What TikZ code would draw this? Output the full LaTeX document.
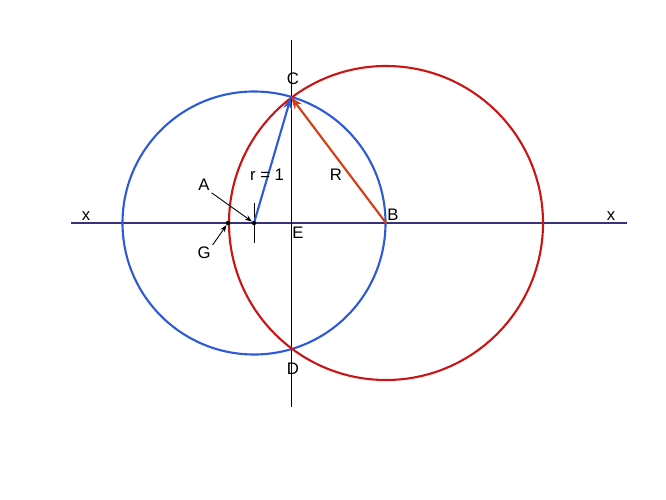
\documentclass[tikz,border=0pt]{standalone}
\usepackage{fontspec}
\setmainfont{Liberation Sans}
\usepackage{tikz}
\usetikzlibrary{positioning,arrows.meta}
\definecolor{circblue}{RGB}{45,90,215}
\definecolor{circred}{RGB}{205,20,20}
\definecolor{radred}{RGB}{215,60,20}
\definecolor{axisblue}{RGB}{55,50,120}

\begin{document}
\begin{tikzpicture}[
		x=0.02cm, y=-0.02cm,
		every node/.style={
			font=\fontsize{9.5}{11}\selectfont,
			inner sep=1pt,
		},
		pt/.style={circle, fill=black, inner sep=0pt, minimum size=2.5pt},
		]
		\useasboundingbox (0,0) rectangle (666,500);

		% points
		\coordinate (A) at (254,223);
		\coordinate (B) at (386,223);
		\coordinate (C) at (291,97);
		\coordinate (D) at (291,349);
		\coordinate (E) at (291,223);
		\coordinate (G) at (228,223);

		% axes
		\draw[axisblue, line width=0.6pt] (71,223) coordinate (xl) -- (627,223) coordinate (xr);
		\draw[black, line width=0.45pt] (291,40) coordinate (yt) -- (291,407) coordinate (yb);
		\draw[black, line width=0.45pt] (254,203) -- (254,243);

		% circles
		\draw[circblue, line width=1.2pt] (A) circle (131.5);
		\draw[circred, line width=1.2pt] (B) circle (157);

		% radii
		\draw[circblue, line width=1.2pt, -{Stealth[length=7pt,width=5pt]}] (A) -- (C);
		\draw[radred, line width=1.2pt, -{Stealth[length=7pt,width=5pt]}] (B) -- (C);

		\node[pt] (Adot) at (A) {};
		\node[pt] (Gdot) at (G) {};

		% labels
		\node (labC) at (293,79) {C};
		\node (labD) at (293,369) {D};
		\node (labE) at (298,233) {E};
		\node (labB) at (393,215) {B};
		\node (labR) at (336,175) {R};
		\node (labr) at (267,175) {r = 1};
		\node (labxl) at (86,216) {x};
		\node (labxr) at (611,216) {x};
		\node (labA) at (204,185) {A};
		\node (labG) at (204,253) {G};

		\draw[-{Stealth[length=4pt,width=3pt]}, line width=0.5pt] (labA.south east) -- (Adot);
		\draw[-{Stealth[length=4pt,width=3pt]}, line width=0.5pt] (labG.north east) -- (Gdot);

	\end{tikzpicture}
\end{document}
